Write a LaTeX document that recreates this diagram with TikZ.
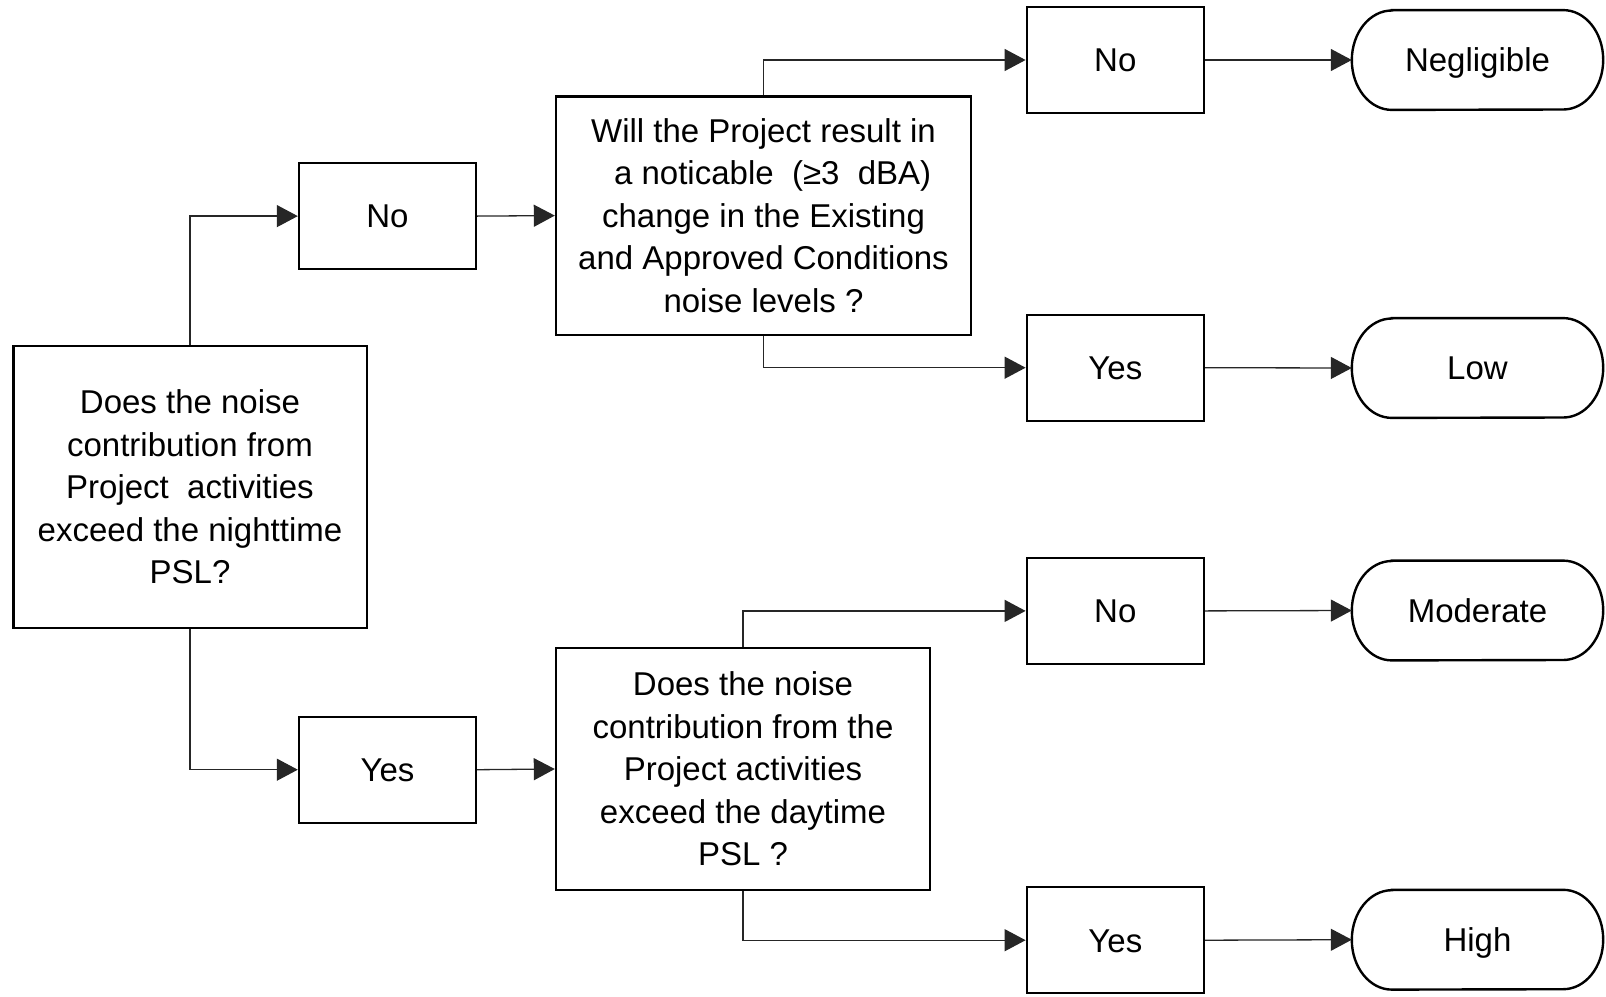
\documentclass[tikz,border=0pt]{standalone}
\usepackage{fontspec}
\setmainfont{Liberation Sans}
\usetikzlibrary{arrows.meta}
\begin{document}
\begin{tikzpicture}[x=1pt,y=-1pt,
  every node/.style={font=\fontsize{33}{42.5}\selectfont, align=center, inner sep=0pt},
  box/.style={draw=black, line width=2.4pt, rectangle, minimum width=#1},
  oneline/.style={text height=23.6pt, text depth=0pt},
  small/.style={box=177pt, minimum height=106pt, oneline},
  term/.style={draw=none, minimum width=251pt, minimum height=99.4pt, oneline},
  conn/.style={draw=black!85, line width=1.3pt, -{Triangle[length=21pt,width=22pt]}}
]
\useasboundingbox (0,0) rectangle (1606,996);

% decision boxes
\node[box=353.4pt, minimum height=281.6pt] (q1) at (190,487)
  {Does the noise\\contribution from\\Project\ \ activities\\exceed the nighttime\\PSL?};
\node[box=415pt, minimum height=238.6pt] (q2) at (763.5,215.6)
  {Will the Project result in\\\ \ a noticable\ \ (≥3\ \ dBA)\\change in the Existing\\and Approved Conditions\\noise levels ?};
\node[box=374pt, minimum height=242pt] (q3) at (743,769)
  {Does the noise\\contribution from the\\Project activities\\exceed the daytime\\PSL ?};

% answer boxes
\node[small] (no1)  at (387.5,216.1) {No};
\node[small] (yes1) at (387.5,769.7) {Yes};
\node[small] (no2)  at (1115.3,60)    {No};
\node[small] (yes2) at (1115.3,367.7) {Yes};
\node[small] (no3)  at (1115.3,610.9) {No};
\node[small] (yes3) at (1115.3,940.2) {Yes};

% outcome terminals
\node[term] (neg)  at (1477.5,60)    {Negligible};
\node[term] (low)  at (1477.5,368)   {Low};
\node[term] (mod)  at (1477.5,610.5) {Moderate};
\node[term] (high) at (1477.5,939.7) {High};

\foreach \t in {neg,low,mod,high}{
  \draw[line width=2.4pt]
    ([xshift=40pt]\t.north west) -- ([xshift=-40pt]\t.north east)
    arc[start angle=90,end angle=-90,x radius=40pt,y radius=49.7pt]
    -- ([xshift=40pt]\t.south west)
    arc[start angle=270,end angle=90,x radius=40pt,y radius=49.7pt]
    -- cycle;
}

% connectors
\draw[conn] (q1.north) |- (no1.west);
\draw[conn] (q1.south) |- (yes1.west);
\draw[conn] (no1.east) -- (q2.west);
\draw[conn] (yes1.east) -- (q3.west);
\draw[conn] (q2.north) |- (no2.west);
\draw[conn] (q2.south) |- (yes2.west);
\draw[conn] (q3.north) |- (no3.west);
\draw[conn] (q3.south) |- (yes3.west);
\draw[conn] (no2.east) -- (neg.west);
\draw[conn] (yes2.east) -- (low.west);
\draw[conn] (no3.east) -- (mod.west);
\draw[conn] (yes3.east) -- (high.west);
\end{tikzpicture}
\end{document}
